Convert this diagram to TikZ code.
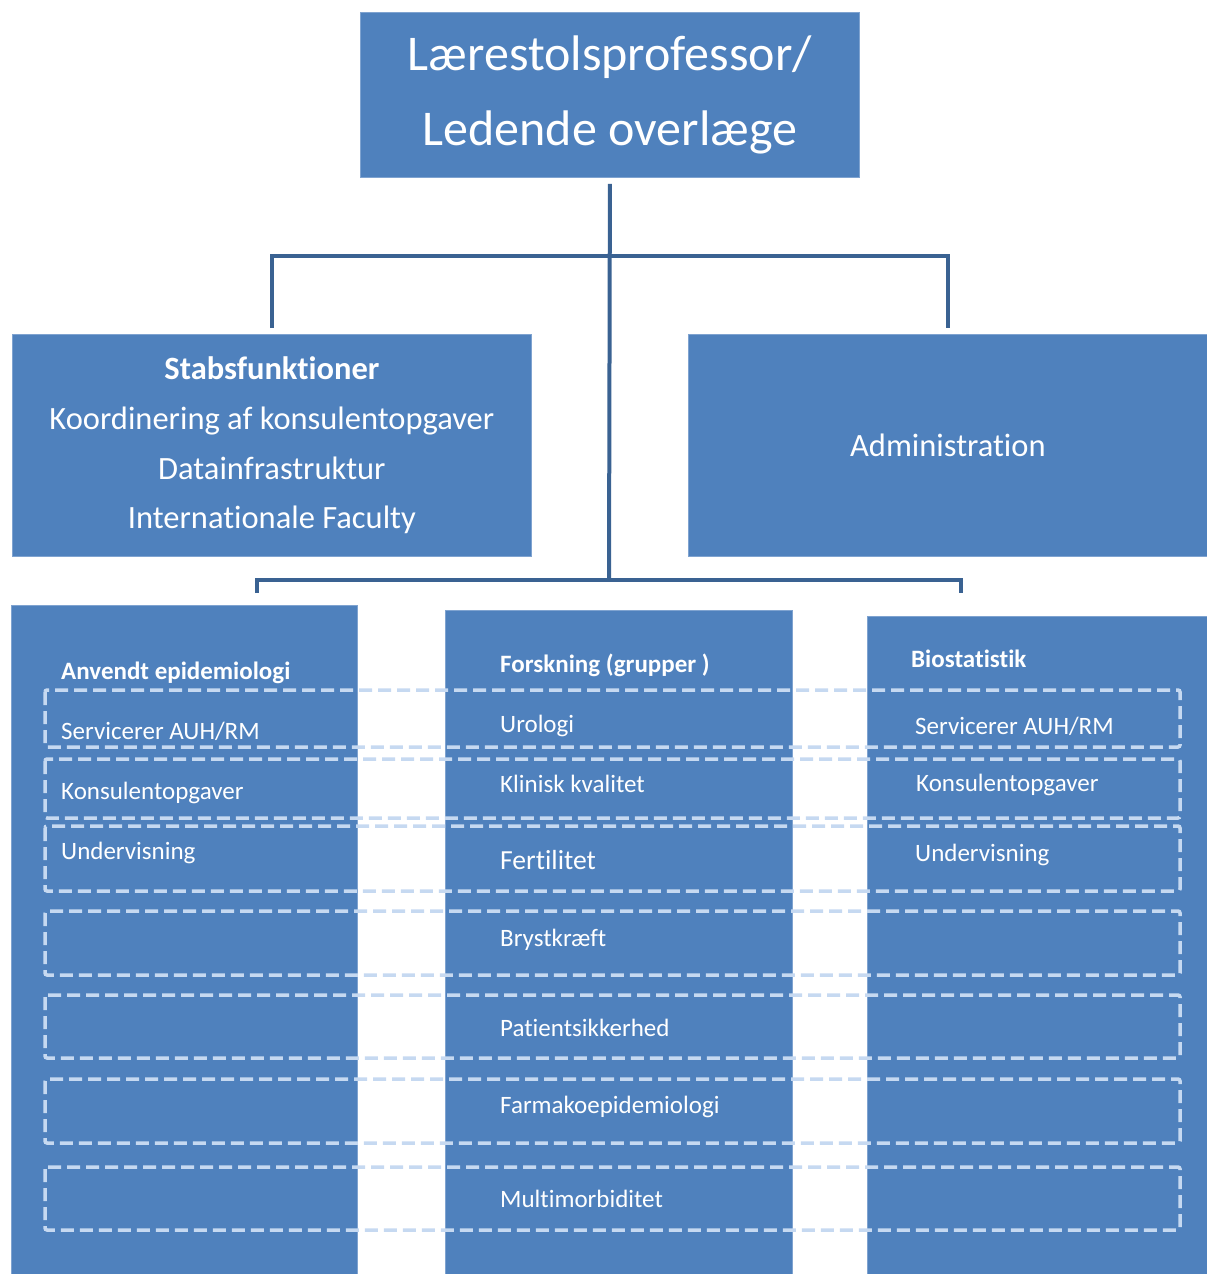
\documentclass[tikz,border=0pt]{standalone}
\usepackage{fontspec}
\setmainfont[Ligatures=NoCommon]{Carlito}
\definecolor{boxblue}{HTML}{4F81BD}
\definecolor{boxedge}{HTML}{7FA3D0}
\definecolor{connblue}{HTML}{3A6292}
\definecolor{dashblue}{HTML}{C6D9F1}
\begin{document}
\begin{tikzpicture}[x=1pt,y=-1pt,
  box/.style={fill=boxblue,draw=boxedge,line width=0.8pt,inner sep=0pt,anchor=north west,text=white},
  conn/.style={draw=connblue,line width=4pt,line join=miter},
  rowbox/.style={draw=dashblue,line width=3.5pt,dash pattern=on 13pt off 6pt,rounded corners=2pt},
  itm/.style={text=white,inner sep=0pt,anchor=base west,font=\fontsize{25}{28}\selectfont},
  hdr/.style={text=white,inner sep=0pt,anchor=base west,font=\fontsize{25}{28}\selectfont\bfseries}]
\useasboundingbox (0,0) rectangle (1207,1274);
% top box
\node[box,minimum width=499pt,minimum height=165pt,align=center,
  font=\fontsize{50}{75}\selectfont] (top) at (360,12) {Lærestolsprofessor/\\Ledende overlæge};
% second level
\node[box,minimum width=519pt,minimum height=222pt,align=center,
  font=\fontsize{32.5}{49.7}\selectfont] (stab) at (12,334)
  {\textbf{Stabsfunktioner}\\Koordinering af konsulentopgaver\\Datainfrastruktur\\Internationale Faculty};
\node[box,minimum width=519pt,minimum height=222pt,align=center,
  font=\fontsize{32.5}{38}\selectfont] (admin) at (688,334) {Administration};
% connectors
\coordinate (j1) at (609,256);
\coordinate (j2) at (609,580);
\coordinate (bl) at (257,593);
\coordinate (br) at (961,593);
\draw[conn] ([yshift=-6pt]top.south) -- (j2);
\draw[conn] ([yshift=6pt]stab.north) -- (stab.north |- j1) -- (admin.north |- j1) -- ([yshift=6pt]admin.north);
\draw[conn] (bl) -- (bl |- j2) -- (br |- j2) -- (br);
% columns
\node[box,minimum width=346pt,minimum height=669pt] (colA) at (11,605) {};
\node[box,minimum width=347pt,minimum height=664pt] (colB) at (445,610) {};
\node[box,minimum width=340pt,minimum height=658pt] (colC) at (867,616) {};
% dashed rows
\draw[rowbox] (45,690) rectangle (1180,747);
\draw[rowbox] (45,759) rectangle (1180,818);
\draw[rowbox] (45,826) rectangle (1180,891);
\draw[rowbox] (45,911) rectangle (1180,975);
\draw[rowbox] (45,995) rectangle (1180,1058);
\draw[rowbox] (45,1079) rectangle (1180,1143);
\draw[rowbox] (45,1167) rectangle (1180,1230);
% column texts
\node[hdr] (hA) at (61,679) {Anvendt epidemiologi};
\node[itm] (a1) at (61,739) {Servicerer AUH/RM};
\node[itm] (a2) at (61,799) {Konsulentopgaver};
\node[itm] (a3) at (61,859) {Undervisning};
\node[hdr] (hB) at (500,672) {Forskning (grupper )};
\node[itm] (b1) at (500,732) {Urologi};
\node[itm] (b2) at (500,792) {Klinisk kvalitet};
\node[itm,font=\fontsize{27.6}{30}\selectfont] (b3) at (500,869) {Fertilitet};
\node[itm] (b4) at (500,946) {Brystkræft};
\node[itm] (b5) at (500,1036) {Patientsikkerhed};
\node[itm] (b6) at (500,1113) {Farmakoepidemiologi};
\node[itm] (b7) at (500,1207) {Multimorbiditet};
\node[hdr] (hC) at (911,667) {Biostatistik};
\node[itm] (c1) at (915,734) {Servicerer AUH/RM};
\node[itm] (c2) at (916,791) {Konsulentopgaver};
\node[itm] (c3) at (915,861) {Undervisning};
\end{tikzpicture}
\end{document}
